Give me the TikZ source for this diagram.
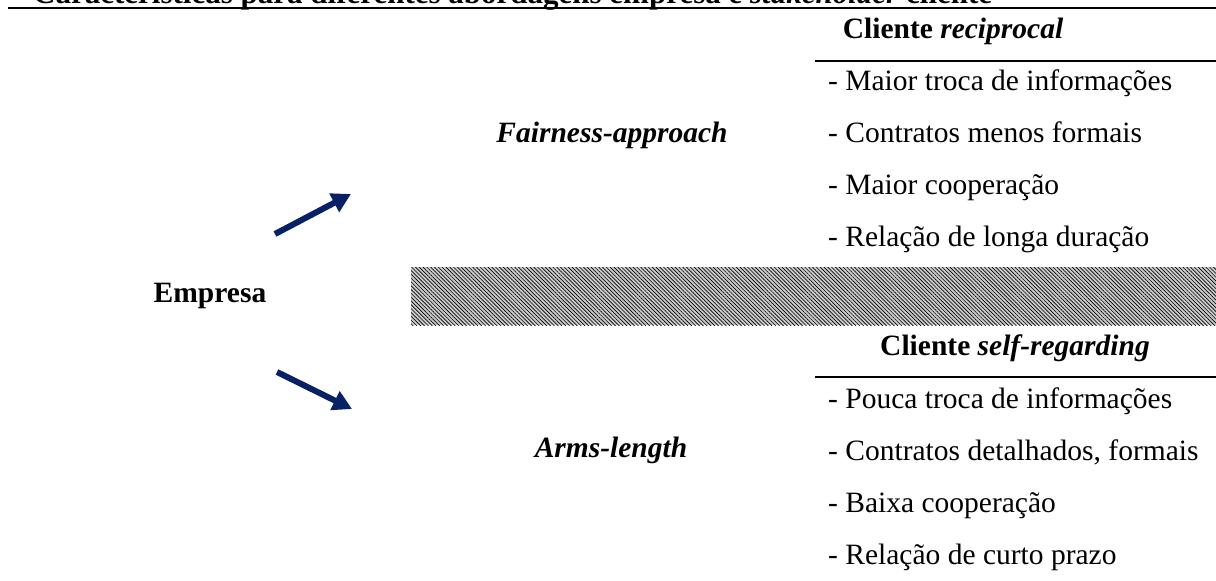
\documentclass[tikz,border=0pt]{standalone}
\usepackage{fontspec}
\setmainfont{Liberation Serif}
\usetikzlibrary{arrows.meta,patterns.meta}
\definecolor{navy}{RGB}{8,32,100}
\begin{document}
\begin{tikzpicture}[x=1pt,y=-1pt,
  txt/.style={inner sep=0pt,font=\fontsize{29.5}{35}\selectfont},
  item/.style={txt,anchor=base west},
  head/.style={txt,anchor=base,font=\fontsize{29.5}{35}\selectfont\bfseries},
  rule/.style={line width=2pt},
  bigarrow/.style={navy,line width=6pt,-{Triangle[length=19pt,width=20pt]}}]
\useasboundingbox (0,0) rectangle (1216,581);
\clip (0,0) rectangle (1216,581);
% title (cut off at the top)
\node[txt,anchor=base west,font=\fontsize{31}{36}\selectfont\bfseries] (title) at (33,3)
  {Características para diferentes abordagens empresa e \textit{stakeholder} cliente};
\draw[rule] (8,8) -- (1216,8);
% upper group
\node[head] (crec) at (953,38) {Cliente \textit{reciprocal}};
\draw[rule] (815,61) -- (1216,61);
\node[item] (r1) at (828,90) {- Maior troca de informações};
\node[item] (r2) at (828,142) {- Contratos menos formais};
\node[item] (r3) at (828,194) {- Maior cooperação};
\node[item] (r4) at (828,246) {- Relação de longa duração};
\node[txt,anchor=base,font=\fontsize{29.5}{35}\selectfont\bfseries\itshape] (fair) at (612,142) {Fairness-approach};
% hatched band
\fill[gray!40] (411,267) rectangle (1216,325);
\fill[pattern={Lines[angle=-45,distance=2.7pt,line width=0.65pt]},pattern color=black] (411,267) rectangle (1216,325);
% left label
\node[head] (emp) at (210,302) {Empresa};
% lower group
\node[head] (cself) at (1015,355) {Cliente \textit{self-regarding}};
\draw[rule] (815,377) -- (1216,377);
\node[item] (s1) at (828,408) {- Pouca troca de informações};
\node[item] (s2) at (828,460) {- Contratos detalhados, formais};
\node[item] (s3) at (828,512) {- Baixa cooperação};
\node[item] (s4) at (828,564) {- Relação de curto prazo};
\node[txt,anchor=base,font=\fontsize{29.5}{35}\selectfont\bfseries\itshape] (arms) at (611,457) {Arms-length};
% arrows
\coordinate (upT) at (275,234);
\coordinate (upH) at (351,194);
\coordinate (dnT) at (277,372);
\coordinate (dnH) at (352,409);
\draw[bigarrow] (upT) -- (upH);
\draw[bigarrow] (dnT) -- (dnH);
\end{tikzpicture}
\end{document}
